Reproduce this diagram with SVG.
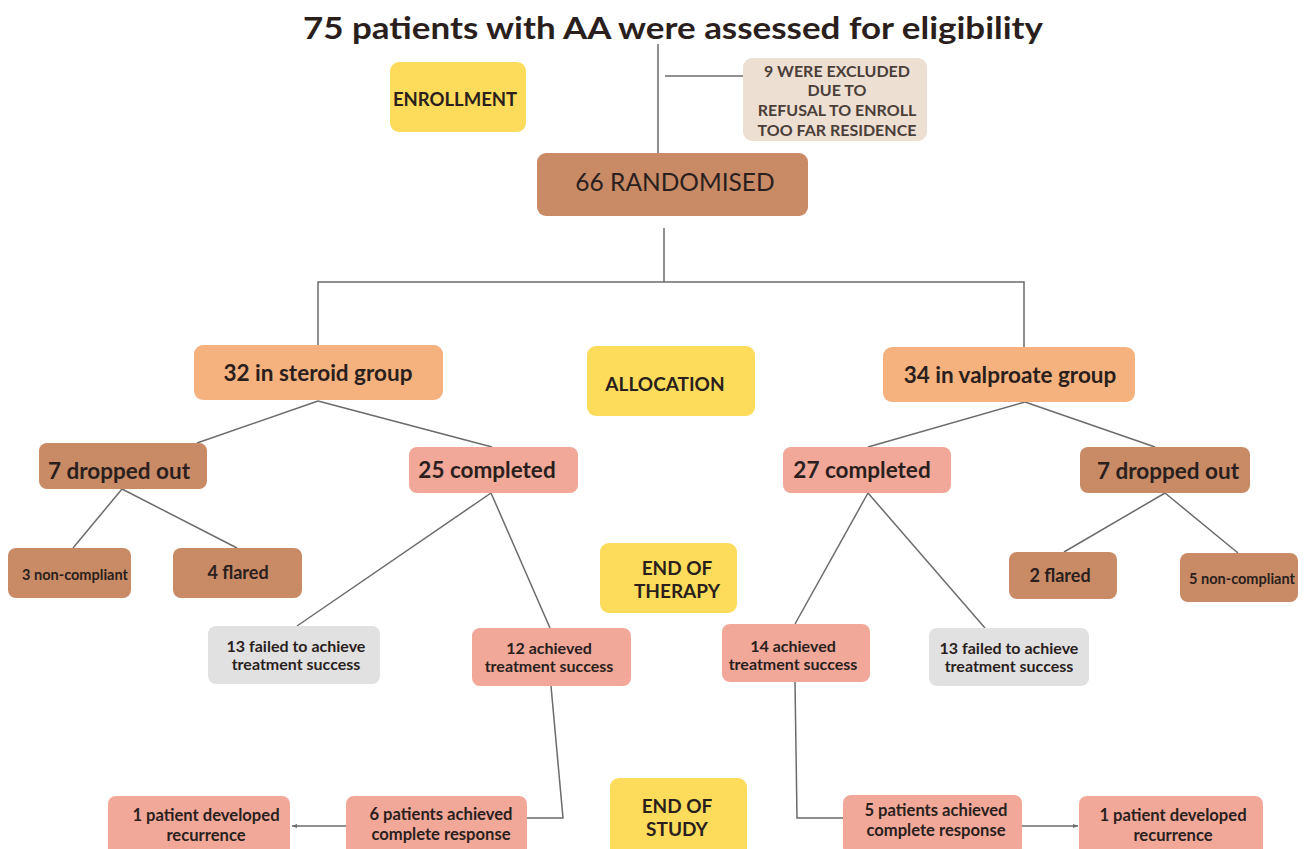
<svg xmlns="http://www.w3.org/2000/svg" width="1306" height="849" viewBox="0 0 1306 849">
<style>
text{font-family:Lato,"Liberation Sans",sans-serif;font-weight:700;fill:#2a1f1d;text-anchor:middle;dominant-baseline:central}
.y{fill:#fcdc5a}
.br{fill:#c98a66}
.or{fill:#f5b27e}
.sa{fill:#f1a898}
.gr{fill:#e1e1e1}
.be{fill:#eedfd3}
.c line,.c polyline,.c path{stroke:#6b6b6b;stroke-width:1.5;fill:none}
.t22{font-size:22.5px}
.t16{font-size:16px}
.t17{font-size:16.6px}
.t14{font-size:14.5px}
.t18{font-size:18px}
.t19{font-size:19px}
</style>
<defs>
<marker id="ah" markerWidth="6" markerHeight="6" refX="5" refY="3" orient="auto" markerUnits="userSpaceOnUse">
<path d="M0,1 L5,3 L0,5 z" fill="#6b6b6b"/>
</marker>
</defs>
<rect width="1306" height="849" fill="#ffffff"/>
<text x="673" y="27" textLength="740" lengthAdjust="spacingAndGlyphs" style="font-size:31px">75 patients with AA were assessed for eligibility</text>

<g class="c">
<line x1="658" y1="44" x2="658" y2="153"/>
<line x1="665" y1="76" x2="745" y2="76"/>
<line x1="664" y1="228" x2="664" y2="282"/>
<polyline points="318,345 318,282 1024,282 1024,348"/>
<line x1="318" y1="401" x2="197" y2="443"/>
<line x1="318" y1="401" x2="492" y2="447"/>
<line x1="1025" y1="402" x2="868" y2="447"/>
<line x1="1025" y1="402" x2="1155" y2="447"/>
<line x1="122" y1="489" x2="73" y2="548"/>
<line x1="122" y1="489" x2="237" y2="548"/>
<line x1="1165" y1="493" x2="1064" y2="552"/>
<line x1="1165" y1="493" x2="1238" y2="553"/>
<line x1="491" y1="493" x2="297" y2="626"/>
<line x1="491" y1="493" x2="550" y2="628"/>
<line x1="868" y1="493" x2="795" y2="624"/>
<line x1="868" y1="493" x2="985" y2="628"/>
<polyline points="551,686 563,818 527,818"/>
<polyline points="795,682 797,818 843,818"/>
<line x1="346" y1="826" x2="292" y2="826" marker-end="url(#ah)"/>
<line x1="1022" y1="826" x2="1078" y2="826" marker-end="url(#ah)"/>
</g>

<g id="enrollment"><rect class="y" x="390" y="62" width="136" height="70" rx="9"/><text class="t19" x="455" y="99" style="font-size:18.5px">ENROLLMENT</text></g>
<g id="excluded"><rect class="be" x="743" y="58" width="184" height="83" rx="9"/>
<text class="t16" x="837" y="70" style="fill:#4a3e38">9 WERE EXCLUDED</text>
<text class="t16" x="837" y="89" style="fill:#4a3e38">DUE TO</text>
<text class="t16" x="837" y="109" style="fill:#4a3e38">REFUSAL TO ENROLL</text>
<text class="t16" x="837" y="129" style="fill:#4a3e38">TOO FAR RESIDENCE</text></g>
<g id="randomised"><rect class="br" x="537" y="153" width="271" height="63" rx="9"/><text x="675" y="181" style="font-size:24.5px;font-weight:400">66 RANDOMISED</text></g>
<g id="steroid"><rect class="or" x="194" y="345" width="249" height="55" rx="9"/><text class="t22" x="318" y="372">32 in steroid group</text></g>
<g id="allocation"><rect class="y" x="587" y="346" width="168" height="70" rx="9"/><text class="t19" x="665" y="383">ALLOCATION</text></g>
<g id="valproate"><rect class="or" x="883" y="347" width="252" height="55" rx="9"/><text class="t22" x="1010" y="374">34 in valproate group</text></g>
<g id="dropped-left"><rect class="br" x="39" y="443" width="168" height="46" rx="8"/><text class="t22" x="119" y="470">7 dropped out</text></g>
<g id="completed-25"><rect class="sa" x="409" y="447" width="169" height="46" rx="8"/><text class="t22" x="487" y="469">25 completed</text></g>
<g id="completed-27"><rect class="sa" x="783" y="447" width="168" height="46" rx="8"/><text class="t22" x="862" y="469">27 completed</text></g>
<g id="dropped-right"><rect class="br" x="1080" y="447" width="170" height="46" rx="8"/><text class="t22" x="1168" y="470">7 dropped out</text></g>
<g id="noncompliant-3"><rect class="br" x="8" y="548" width="123" height="50" rx="8"/><text class="t14" x="75" y="574" textLength="106" lengthAdjust="spacingAndGlyphs">3 non-compliant</text></g>
<g id="flared-4"><rect class="br" x="173" y="548" width="129" height="50" rx="8"/><text class="t18" x="238" y="572">4 flared</text></g>
<g id="flared-2"><rect class="br" x="1009" y="552" width="108" height="47" rx="8"/><text class="t18" x="1060" y="575">2 flared</text></g>
<g id="noncompliant-5"><rect class="br" x="1180" y="553" width="118" height="49" rx="8"/><text class="t14" x="1242" y="578" textLength="106" lengthAdjust="spacingAndGlyphs">5 non-compliant</text></g>
<g id="end-therapy"><rect class="y" x="600" y="543" width="137" height="70" rx="9"/><text class="t19" x="677" y="567">END OF</text><text class="t19" x="677" y="590">THERAPY</text></g>
<g id="failed-left"><rect class="gr" x="208" y="626" width="172" height="58" rx="8"/><text class="t16" x="296" y="645">13 failed to achieve</text><text class="t16" x="296" y="663">treatment success</text></g>
<g id="achieved-12"><rect class="sa" x="472" y="628" width="159" height="58" rx="8"/><text class="t16" x="549" y="647">12 achieved</text><text class="t16" x="549" y="665">treatment success</text></g>
<g id="achieved-14"><rect class="sa" x="722" y="624" width="148" height="58" rx="8"/><text class="t16" x="793" y="645">14 achieved</text><text class="t16" x="793" y="663">treatment success</text></g>
<g id="failed-right"><rect class="gr" x="929" y="628" width="160" height="58" rx="8"/><text class="t16" x="1009" y="647">13 failed to achieve</text><text class="t16" x="1009" y="665">treatment success</text></g>
<g id="end-study"><rect class="y" x="610" y="778" width="137" height="80" rx="9"/><text class="t19" x="677" y="805">END OF</text><text class="t19" x="677" y="828">STUDY</text></g>
<g id="recurrence-left"><rect class="sa" x="108" y="796" width="182" height="60" rx="8"/><text class="t17" x="206" y="815">1 patient developed</text><text class="t17" x="206" y="835">recurrence</text></g>
<g id="complete-6"><rect class="sa" x="346" y="796" width="181" height="60" rx="8"/><text class="t17" x="441" y="814">6 patients achieved</text><text class="t17" x="441" y="834">complete response</text></g>
<g id="complete-5"><rect class="sa" x="843" y="795" width="179" height="60" rx="8"/><text class="t17" x="936" y="810">5 patients achieved</text><text class="t17" x="936" y="830">complete response</text></g>
<g id="recurrence-right"><rect class="sa" x="1079" y="796" width="184" height="60" rx="8"/><text class="t17" x="1173" y="815">1 patient developed</text><text class="t17" x="1173" y="835">recurrence</text></g>
</svg>
